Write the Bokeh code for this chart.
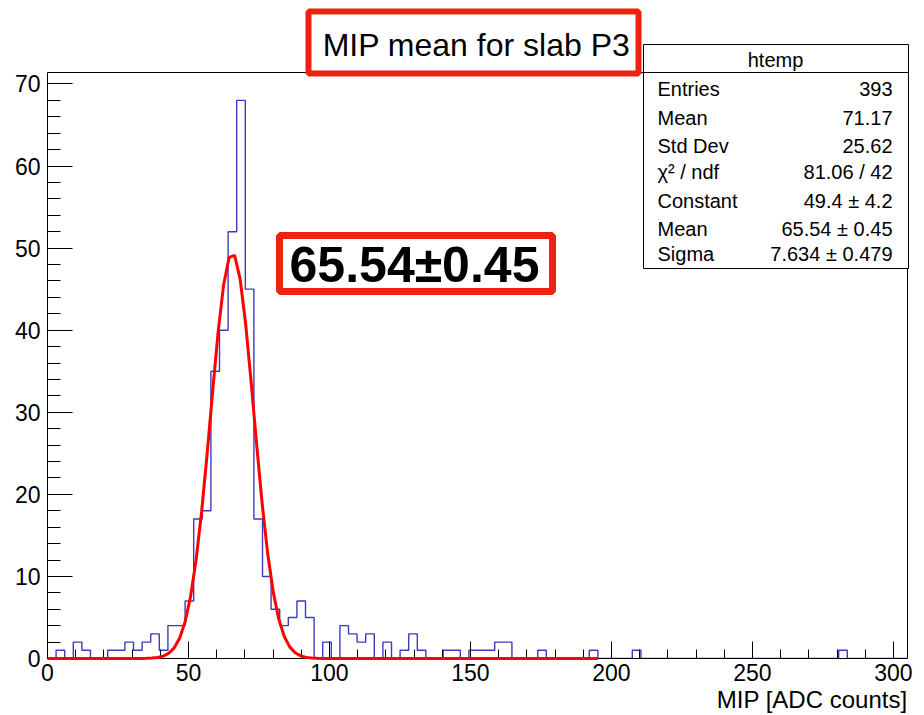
import numpy as np
from bokeh.plotting import figure
from bokeh.models import Range1d, SingleIntervalTicker, Label, BoxAnnotation, ColumnDataSource, Title
from bokeh.embed import file_html
from bokeh.resources import INLINE

# ---------------- data ----------------
x_min, x_max = 0.0, 305.0
n_bins = 100
counts = [0, 1, 0, 2, 1, 0, 0, 1, 1, 2,
          1, 2, 3, 1, 4, 4, 7, 17, 18, 35,
          40, 52, 68, 45, 17, 10, 6, 4, 5, 7,
          5, 0, 2, 0, 4, 3, 2, 3, 0, 2,
          0, 1, 3, 1, 0, 0, 1, 1, 0, 1,
          1, 1, 2, 2, 0, 0, 0, 1, 0, 0,
          0, 0, 0, 1, 0, 0, 0, 0, 1, 0,
          0, 0, 0, 0, 0, 0, 0, 0, 0, 0,
          0, 0, 0, 0, 0, 0, 0, 0, 0, 0,
          0, 0, 1, 0, 0, 0, 0, 0, 0, 0]

# Gaussian fit parameters (as printed in the stats box)
fit_const, fit_mean, fit_sigma = 49.4, 65.54, 7.634
fit_range = (0.0, 195.2)
fit_npx = 100

title_text = "MIP mean for slab P3"
xaxis_title = "MIP [ADC counts]"
stats_name = "htemp"
stats_labels = ["Entries", "Mean", "Std Dev", "\u03c7\u00b2 / ndf", "Constant", "Mean", "Sigma"]
stats_values = ["393", "71.17", "25.62", "81.06 / 42", "49.4 \u00b1 4.2", "65.54 \u00b1 0.45", "7.634 \u00b1 0.479"]
highlight_text = "65.54\u00b10.45"

# ---------------- layout helpers ----------------
y_top = max(counts) * 1.05
W, H = 924, 715
L, B = 47, 57                 # left / bottom borders of the plotting frame
FX1, FY0 = 907, 72            # ROOT frame right edge and top edge (pixels)
SX = (x_max - x_min) / (FX1 - L)
SY = y_top / (H - B - FY0)

def X(px):
    return x_min + (px - L) * SX

def Y(py):
    return (H - B - py) * SY

p = figure(width=W, height=H, output_backend="svg", toolbar_location=None,
           x_range=Range1d(x_min, X(W)), y_range=Range1d(0, Y(0)),
           min_border_left=L, min_border_right=0, min_border_top=0, min_border_bottom=B,
           background_fill_color="white", border_fill_color="white")
p.xgrid.visible = False
p.ygrid.visible = False
p.outline_line_color = None

FONT = "Liberation Sans"
p.xaxis.ticker = SingleIntervalTicker(interval=50, num_minor_ticks=5)
p.yaxis.ticker = SingleIntervalTicker(interval=10, num_minor_ticks=5)
p.xaxis.bounds = (x_min, x_max)
p.yaxis.bounds = (0, y_top)
for ax in (p.xaxis[0], p.yaxis[0]):
    ax.axis_line_color = "black"
    ax.major_tick_line_color = "black"
    ax.minor_tick_line_color = "black"
    ax.major_tick_out = 0
    ax.minor_tick_out = 0
    ax.major_label_text_font = FONT
    ax.major_label_text_font_size = "23px"
    ax.major_label_text_color = "black"
p.xaxis.major_tick_in = 17
p.xaxis.minor_tick_in = 9
p.yaxis.major_tick_in = 25
p.yaxis.minor_tick_in = 13
p.xaxis.major_label_standoff = 5
p.yaxis.major_label_standoff = 7

# x axis title, right aligned at the frame edge
p.add_layout(Title(text=xaxis_title, align="right", offset=W - FX1, standoff=0,
                   text_font=FONT, text_font_size="24px", text_font_style="normal",
                   text_color="black"), "below")

# ROOT frame (top and right edges)
p.add_layout(BoxAnnotation(left=x_min, right=x_max, bottom=0, top=y_top,
                           fill_alpha=0, line_color="black", line_alpha=1, line_width=1,
                           level="underlay"))

# histogram outline
edges = np.linspace(x_min, x_max, n_bins + 1)
src = ColumnDataSource(dict(x=edges, y=list(counts) + [0]))
p.step("x", "y", source=src, mode="after", line_color="#3c3cc0", line_width=1.4)

# fit curve
fx = np.linspace(fit_range[0], fit_range[1], fit_npx + 1)
fy = fit_const * np.exp(-0.5 * ((fx - fit_mean) / fit_sigma) ** 2)
p.line(fx, fy, line_color="#ff0000", line_width=3, level="overlay")

# title with red box
p.add_layout(BoxAnnotation(left=X(308), right=X(638), top=Y(11), bottom=Y(73),
                           fill_color="white", fill_alpha=1.0, line_color="#ee2211", line_alpha=1,
                           line_width=6, level="overlay"))
p.add_layout(Label(x=X(476), y=Y(44), text=title_text, text_align="center", text_baseline="middle",
                   text_font=FONT, text_font_size="32px", text_color="black", level="overlay"))

# stats box
p.add_layout(BoxAnnotation(left=X(643), right=X(908), top=Y(44), bottom=Y(268),
                           fill_color="white", fill_alpha=1.0, line_color="black", line_alpha=1,
                           line_width=1, level="overlay"))
p.add_layout(BoxAnnotation(left=X(643), right=X(908), top=Y(72), bottom=Y(72),
                           fill_alpha=0, line_color="black", line_alpha=1, line_width=1,
                           level="overlay"))
p.add_layout(Label(x=X(775), y=Y(59), text=stats_name, text_align="center", text_baseline="middle",
                   text_font=FONT, text_font_size="20px", text_color="black", level="overlay"))
row_px = [88, 117, 145, 171, 200, 228, 253]
for lab, val, py in zip(stats_labels, stats_values, row_px):
    p.add_layout(Label(x=X(657), y=Y(py), text=lab, text_align="left", text_baseline="middle",
                       text_font=FONT, text_font_size="20px", text_color="black", level="overlay"))
    p.add_layout(Label(x=X(892), y=Y(py), text=val, text_align="right", text_baseline="middle",
                       text_font=FONT, text_font_size="20px", text_color="black", level="overlay"))

# highlighted fit mean
p.add_layout(BoxAnnotation(left=X(279), right=X(552), top=Y(235), bottom=Y(291),
                           fill_color="white", fill_alpha=1.0, line_color="#ee2211", line_alpha=1,
                           line_width=7, level="overlay"))
p.add_layout(Label(x=X(414), y=Y(264), text=highlight_text, text_align="center", text_baseline="middle",
                   text_font=FONT, text_font_size="50px", text_font_style="bold", text_color="black",
                   level="overlay"))

open("out.html", "w").write(file_html(p, INLINE))
